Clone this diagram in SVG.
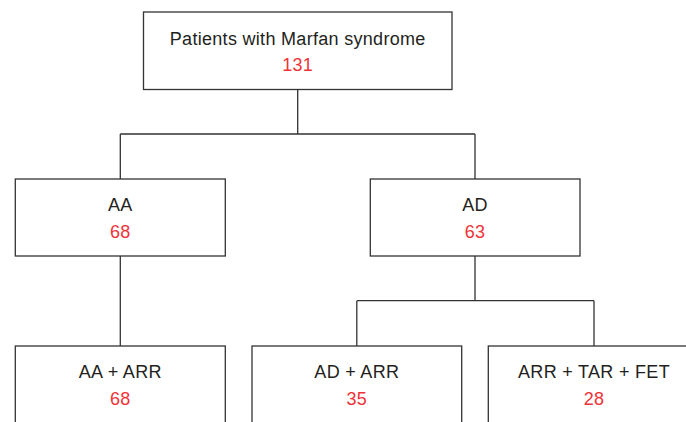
<svg xmlns="http://www.w3.org/2000/svg" width="686" height="422" viewBox="0 0 686 422">
<style>
.box{fill:#ffffff;stroke:#333333;stroke-width:1.3}
.lbl{font-family:"Liberation Sans",Arial,sans-serif;font-size:18px;letter-spacing:0.3px;fill:#231f20;text-anchor:middle}
.num{font-family:"Liberation Sans",Arial,sans-serif;font-size:18px;letter-spacing:0.3px;fill:#ee3338;text-anchor:middle}
.conn{fill:none;stroke:#333333;stroke-width:1.3}
</style>
<rect width="686" height="422" fill="#ffffff"/>
<g id="connectors">
<path class="conn" d="M297.7,89.5 V134 M120.3,134 H475 M120.3,134 V179 M475,134 V179"/>
<path class="conn" d="M120.3,256 V346"/>
<path class="conn" d="M475,256 V300.7 M356.8,300.7 H594 M356.8,300.7 V346 M594,300.7 V346"/>
</g>
<g id="node-root">
<rect class="box" x="143.5" y="12" width="308.5" height="77.5"/>
<text class="lbl" x="297.7" y="44.5">Patients with Marfan syndrome</text>
<text class="num" x="297.7" y="71">131</text>
</g>
<g id="node-aa">
<rect class="box" x="15.3" y="179" width="210" height="77"/>
<text class="lbl" x="120.3" y="211">AA</text>
<text class="num" x="120.3" y="238">68</text>
</g>
<g id="node-ad">
<rect class="box" x="370.3" y="179" width="209.7" height="77"/>
<text class="lbl" x="475" y="211">AD</text>
<text class="num" x="475" y="238">63</text>
</g>
<g id="node-aa-arr">
<rect class="box" x="15.3" y="346" width="210" height="90"/>
<text class="lbl" x="120.3" y="378">AA + ARR</text>
<text class="num" x="120.3" y="405">68</text>
</g>
<g id="node-ad-arr">
<rect class="box" x="252" y="346" width="209.7" height="90"/>
<text class="lbl" x="356.8" y="378">AD + ARR</text>
<text class="num" x="356.8" y="405">35</text>
</g>
<g id="node-arr-tar-fet">
<rect class="box" x="488.3" y="346" width="211.4" height="90"/>
<text class="lbl" x="594" y="378">ARR + TAR + FET</text>
<text class="num" x="594" y="405">28</text>
</g>
</svg>
